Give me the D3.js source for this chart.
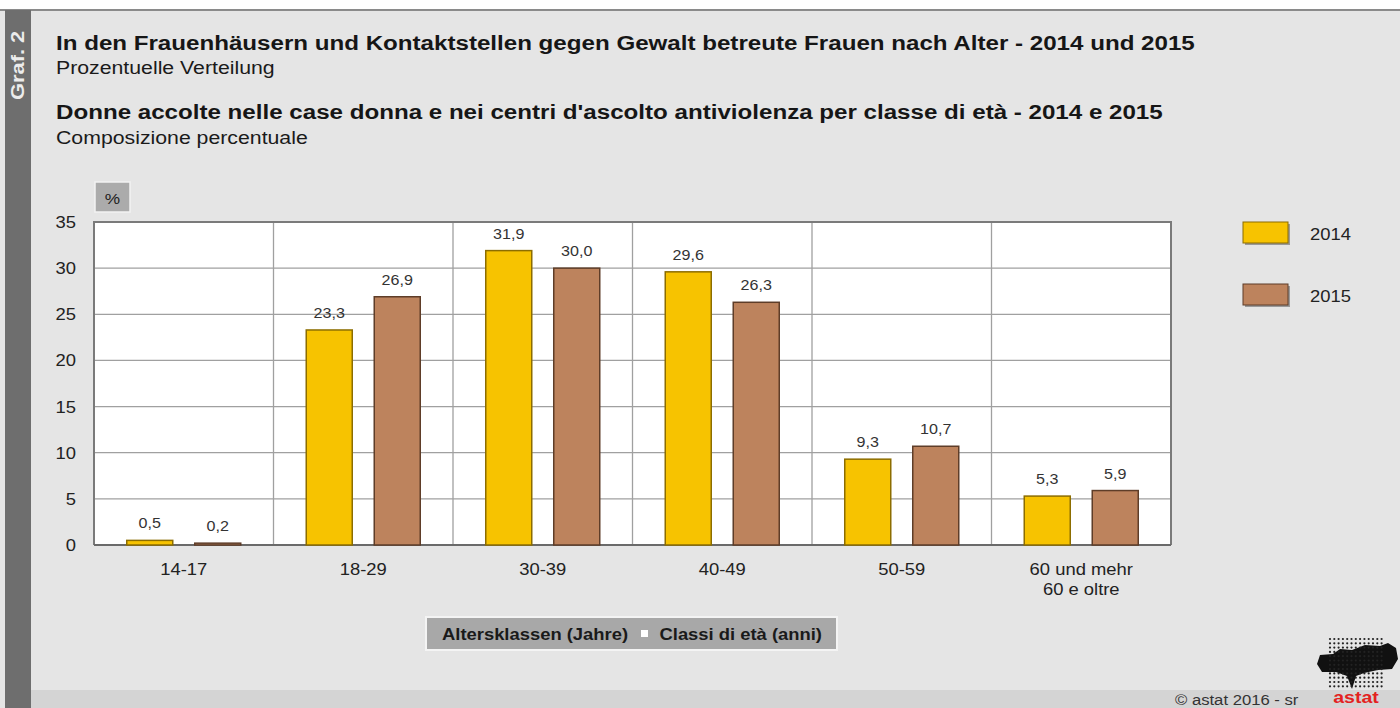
<!DOCTYPE html>
<html>
<head>
<meta charset="utf-8">
<script src="https://cdnjs.cloudflare.com/ajax/libs/d3/7.8.5/d3.min.js"></script>
<style>
  body { margin: 0; background: #fff; }
  svg { display: block; font-family: Arial, "Liberation Sans", sans-serif; }
</style>
</head>
<body>
<svg width="1400" height="708"></svg>
<script>
// data
var categories = ['14-17', '18-29', '30-39', '40-49', '50-59', '60 und mehr|60 e oltre'];
var years = ['2014', '2015'];
var values2014 = [0.5, 23.3, 31.9, 29.6, 9.3, 5.3];
var values2015 = [0.2, 26.9, 30.0, 26.3, 10.7, 5.9];
var yTicks = [0, 5, 10, 15, 20, 25, 30, 35];
var colors = ['#f7c300', '#bd835d'];
var strokes = ['#8c6d00', '#5e3d28'];

// the original font is a bit wider than Arial
var SX = 1.15;

var svg = d3.select('svg');

function txt(parent, x, y, s, size, weight, anchor, fill) {
    return parent.append('g')
        .attr('transform', 'translate(' + x + ',' + y + ') scale(' + SX + ',1)')
        .append('text')
        .attr('text-anchor', anchor || 'start')
        .attr('font-size', size)
        .attr('font-weight', weight || 'normal')
        .attr('fill', fill || '#222')
        .text(s);
}

// background
svg.append('rect').attr('x', 0).attr('y', 10).attr('width', 1400).attr('height', 698).attr('fill', '#e5e5e5');
svg.append('rect').attr('x', 0).attr('y', 9).attr('width', 1400).attr('height', 2).attr('fill', '#8a8a8a');
svg.append('rect').attr('x', 5).attr('y', 10).attr('width', 26).attr('height', 698).attr('fill', '#6e6e6e');
svg.append('rect').attr('x', 31).attr('y', 690).attr('width', 1369).attr('height', 18).attr('fill', '#d4d4d4');

svg.append('g')
    .attr('transform', 'translate(24,100) rotate(-90) scale(' + SX + ',1)')
    .append('text')
    .attr('fill', '#ececec')
    .attr('font-size', 19)
    .attr('font-weight', 'bold')
    .text('Graf. 2');

// titles
txt(svg, 56, 50, 'In den Frauenhäusern und Kontaktstellen gegen Gewalt betreute Frauen nach Alter - 2014 und 2015', 21, 'bold', 'start', '#161616');
txt(svg, 56, 74, 'Prozentuelle Verteilung', 18.5, 'normal', 'start', '#1a1a1a');
txt(svg, 56, 119, "Donne accolte nelle case donna e nei centri d'ascolto antiviolenza per classe di età - 2014 e 2015", 21, 'bold', 'start', '#161616');
txt(svg, 56, 144, 'Composizione percentuale', 18.5, 'normal', 'start', '#1a1a1a');

// scales
var x0 = d3.scaleBand().domain(categories).range([94, 1171]);
var x1 = d3.scaleBand().domain(years).range([0, x0.bandwidth()]).paddingInner(0.3235).paddingOuter(0.4816);
var y = d3.scaleLinear().domain([0, 35]).range([545, 222]);

var plot = svg.append('g');
plot.append('rect')
    .attr('x', 94).attr('y', 222)
    .attr('width', 1171 - 94).attr('height', 545 - 222)
    .attr('fill', '#fff');

// horizontal gridlines
plot.selectAll('.hgrid')
    .data(yTicks)
    .enter()
    .append('line')
    .attr('x1', 94).attr('x2', 1171)
    .attr('y1', function(d){ return y(d); })
    .attr('y2', function(d){ return y(d); })
    .attr('stroke', '#a0a0a0')
    .attr('stroke-width', 1.3);

// vertical gridlines
plot.selectAll('.vgrid')
    .data(categories.slice(1))
    .enter()
    .append('line')
    .attr('x1', function(d){ return x0(d); })
    .attr('x2', function(d){ return x0(d); })
    .attr('y1', 222).attr('y2', 545)
    .attr('stroke', '#a0a0a0')
    .attr('stroke-width', 1.3);

// border
plot.append('path')
    .attr('d', 'M94,545V222H1171V545')
    .attr('fill', 'none')
    .attr('stroke', '#7a7a7a')
    .attr('stroke-width', 2);
plot.append('line')
    .attr('x1', 94).attr('x2', 1171).attr('y1', 545).attr('y2', 545)
    .attr('stroke', '#6a6a6a').attr('stroke-width', 2);

// bars
var rows = categories.map(function(c, i){
    return {cat: c, vals: [values2014[i], values2015[i]]};
});
var groups = plot.selectAll('.grp')
    .data(rows)
    .enter()
    .append('g')
    .attr('transform', function(d){ return 'translate(' + x0(d.cat) + ',0)'; });

groups.selectAll('rect')
    .data(function(d){ return d.vals.map(function(v, j){ return {year: years[j], v: v, j: j}; }); })
    .enter()
    .append('rect')
    .attr('x', function(d){ return x1(d.year); })
    .attr('y', function(d){ return y(d.v); })
    .attr('width', x1.bandwidth())
    .attr('height', function(d){ return y(0) - y(d.v); })
    .attr('fill', function(d){ return colors[d.j]; })
    .attr('stroke', function(d){ return strokes[d.j]; })
    .attr('stroke-width', 1.5);

groups.selectAll('.lbl')
    .data(function(d){ return d.vals.map(function(v, j){ return {year: years[j], v: v}; }); })
    .enter()
    .append('g')
    .attr('transform', function(d){
        return 'translate(' + (x1(d.year) + x1.bandwidth() / 2) + ',' + (y(d.v) - 12) + ') scale(' + SX + ',1)';
    })
    .append('text')
    .attr('text-anchor', 'middle')
    .attr('font-size', 14)
    .attr('fill', '#333')
    .text(function(d){ return d.v.toFixed(1).replace('.', ','); });

// y axis labels
yTicks.forEach(function(d){
    txt(svg, 76, y(d) + 6, d, 16, 'normal', 'end', '#222');
});

// x axis labels
categories.forEach(function(c){
    c.split('|').forEach(function(l, k){
        txt(svg, x0(c) + x0.bandwidth() / 2, 575 + k * 20, l, 16, 'normal', 'middle', '#222');
    });
});

// % box
svg.append('rect').attr('x', 95).attr('y', 182).attr('width', 35).attr('height', 30)
    .attr('fill', '#ababab').attr('stroke', '#f2f2f2').attr('stroke-width', 1.5);
txt(svg, 112.5, 204, '%', 15, 'normal', 'middle', '#222');

// axis title box
svg.append('rect').attr('x', 426).attr('y', 617).attr('width', 411).attr('height', 33)
    .attr('fill', '#a8a8a8').attr('stroke', '#f4f4f4').attr('stroke-width', 2);
txt(svg, 442, 640, 'Altersklassen (Jahre)', 16, 'bold', 'start', '#1a1a1a');
svg.append('rect').attr('x', 641).attr('y', 630).attr('width', 7).attr('height', 7).attr('fill', '#fff');
txt(svg, 822, 640, 'Classi di età (anni)', 16, 'bold', 'end', '#1a1a1a');

// legend
var legend = svg.selectAll('.leg')
    .data(years)
    .enter()
    .append('g')
    .attr('transform', function(d, i){ return 'translate(1243,' + (222 + i * 62) + ')'; });
legend.append('rect')
    .attr('x', 2).attr('y', 2).attr('width', 45).attr('height', 21).attr('fill', '#999');
legend.append('rect')
    .attr('width', 45).attr('height', 21)
    .attr('fill', function(d, i){ return colors[i]; })
    .attr('stroke', function(d, i){ return strokes[i]; })
    .attr('stroke-width', 1);
legend.each(function(d){
    txt(d3.select(this), 67, 18, d, 16, 'normal', 'start', '#222');
});

// footer
txt(svg, 1175, 705, '©  astat 2016 - sr', 14.5, 'normal', 'start', '#333');

// logo: dotted map with red text
var logo = svg.append('g');
var dots = [];
for (var r = 0; r < 12; r++) {
    for (var c = 0; c < 13; c++) {
        dots.push([1330 + c * 4.3, 639 + r * 4.3]);
    }
}
logo.append('path')
    .attr('d', 'M1317,664 L1320,655 L1333,654 L1340,649 L1352,650 L1365,645 L1380,646 L1388,643 L1396,648 L1398,659 L1392,669 L1378,670 L1364,673 L1356,676 L1352,689 L1347,676 L1336,672 L1322,672 Z')
    .attr('fill', '#111');
logo.selectAll('circle')
    .data(dots)
    .enter()
    .append('circle')
    .attr('cx', function(d){ return d[0]; })
    .attr('cy', function(d){ return d[1]; })
    .attr('r', 1.1)
    .attr('fill', '#222');
txt(logo, 1356, 703, 'astat', 17, 'bold', 'middle', '#e3221f');
</script>
</body>
</html>
